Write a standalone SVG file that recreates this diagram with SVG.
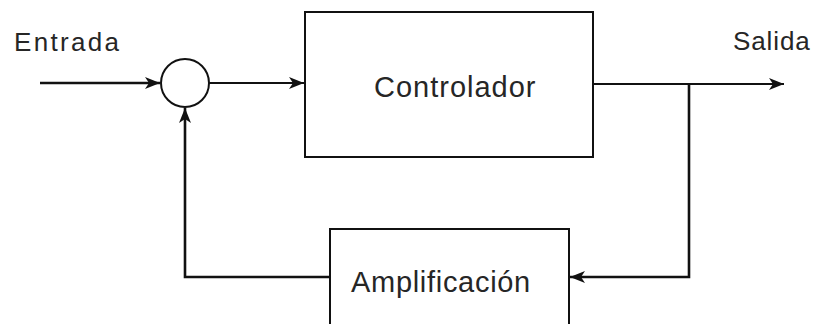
<svg xmlns="http://www.w3.org/2000/svg" width="823" height="324" viewBox="0 0 823 324">
<style>
.box{fill:#fff;stroke:#111;stroke-width:2}
.ln{fill:none;stroke:#111;stroke-width:2}
.dk{fill:none;stroke:#111;stroke-width:2.6}
.lbl{font-family:"Liberation Sans",Arial,sans-serif;fill:#262626}
</style>
<defs>
<marker id="ah" viewBox="0 0 15 12" refX="15" refY="6" markerWidth="15" markerHeight="12" markerUnits="userSpaceOnUse" orient="auto">
<path d="M0,0 L15,6 L0,12 L4,6 Z" fill="#111"/>
</marker>
</defs>
<rect width="823" height="324" fill="#fff"/>
<g id="connectors">
<line class="dk" x1="40" y1="83" x2="160" y2="83" marker-end="url(#ah)"/>
<line class="ln" x1="209" y1="83" x2="304" y2="83" marker-end="url(#ah)"/>
<line class="ln" x1="593" y1="84" x2="784" y2="84" marker-end="url(#ah)"/>
<polyline class="dk" points="689,84 689,277 570,277" marker-end="url(#ah)"/>
<polyline class="dk" points="330,277 185,277 185,108" marker-end="url(#ah)"/>
</g>
<g id="sum">
<circle class="box" cx="185" cy="83" r="24"/>
</g>
<g id="controlador">
<rect class="box" x="305" y="12" width="288" height="145"/>
<text class="lbl" x="374" y="97" font-size="29" letter-spacing="1">Controlador</text>
</g>
<g id="amplificacion">
<rect class="box" x="330" y="229" width="239" height="110"/>
<text class="lbl" x="351" y="292" font-size="29" letter-spacing="0.7">Amplificación</text>
</g>
<g id="labels">
<text class="lbl" x="14" y="51" font-size="26" letter-spacing="2.3">Entrada</text>
<text class="lbl" x="733" y="50" font-size="26" letter-spacing="0.9">Salida</text>
</g>
</svg>
